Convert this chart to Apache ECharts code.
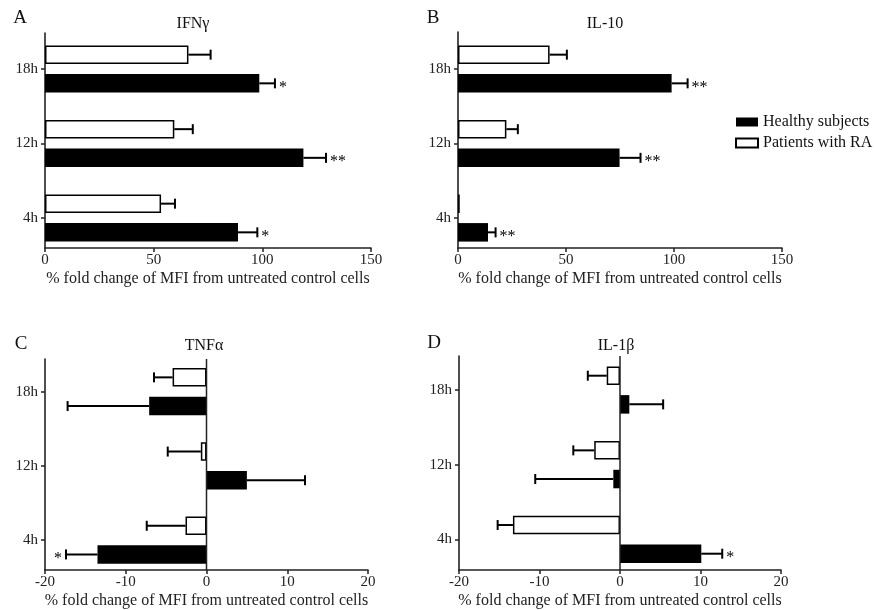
<!DOCTYPE html>
<html><head><meta charset="utf-8">
<script src="https://cdn.jsdelivr.net/npm/echarts@6/dist/echarts.min.js"></script>
<style>html,body{margin:0;padding:0;background:#fff}#c{width:874px;height:610px}</style>
</head><body><div id="c"></div>
<script>
const categories = ['4h', '12h', '18h'];
const seriesNames = ['Healthy subjects', 'Patients with RA'];
const axisTitle = '% fold change of MFI from untreated control cells';

// Panel A: IFNγ
const ifnHealthy = [88.8, 118.9, 98.6];
const ifnHealthyErr = [8.9, 10.4, 7.2];
const ifnHealthyStars = ['*', '**', '*'];
const ifnPatients = [53.4, 59.5, 66.0];
const ifnPatientsErr = [6.4, 8.5, 10.2];
const ifnPatientsStars = ['', '', ''];

// Panel B: IL-10
const il10Healthy = [13.9, 74.8, 98.9];
const il10HealthyErr = [3.5, 9.7, 7.4];
const il10HealthyStars = ['**', '**', '**'];
const il10Patients = [0.8, 22.4, 42.4];
const il10PatientsErr = [0, 5.3, 8.0];
const il10PatientsStars = ['', '', ''];

// Panel C: TNFα
const tnfHealthy = [-13.5, 5.0, -7.1];
const tnfHealthyErr = [3.9, 7.2, 10.1];
const tnfHealthyStars = ['*', '', ''];
const tnfPatients = [-2.6, -0.7, -4.2];
const tnfPatientsErr = [4.8, 4.1, 2.3];
const tnfPatientsStars = ['', '', ''];

// Panel D: IL-1β
const il1Healthy = [10.1, -0.83, 1.16];
const il1HealthyErr = [2.6, 9.7, 4.2];
const il1HealthyStars = ['*', '', ''];
const il1Patients = [-13.3, -3.2, -1.65];
const il1PatientsErr = [1.9, 2.6, 2.35];
const il1PatientsStars = ['', '', ''];

// Tick labels
const ticksTop = [0, 50, 100, 150];
const ticksBottom = [-20, -10, 0, 10, 20];
// vertical zero reference line (x = 0 across the frame)
const zeroLine = [[0, 0], [0, 1]];

const FONT = '"Liberation Serif", "Times New Roman", serif';
const BAR_W = 18.5, BAR_GAP = 0.55;
const HALF_SHIFT = (BAR_W + BAR_W * BAR_GAP) / 2;

const panels = [
  { letter: 'A', title: 'IFNγ', band: { left: 45, top: 31.75, width: 326, height: 223.5 }, frame: { left: 45, top: 33, width: 326, height: 215 },
    letterPos: [20, 18], titlePos: [193, 24],
    h: ifnHealthy, he: ifnHealthyErr, hs: ifnHealthyStars, p: ifnPatients, pe: ifnPatientsErr, ps: ifnPatientsStars, ticks: ticksTop, zero: false },
  { letter: 'B', title: 'IL-10', band: { left: 458, top: 31.75, width: 324, height: 223.5 }, frame: { left: 458, top: 32, width: 324, height: 216 },
    letterPos: [433, 18], titlePos: [605, 24],
    h: il10Healthy, he: il10HealthyErr, hs: il10HealthyStars, p: il10Patients, pe: il10PatientsErr, ps: il10PatientsStars, ticks: ticksTop, zero: false },
  { letter: 'C', title: 'TNFα', band: { left: 45, top: 354.6, width: 323, height: 222.6 }, frame: { left: 45, top: 359, width: 323, height: 213 },
    letterPos: [21, 344], titlePos: [204, 346],
    h: tnfHealthy, he: tnfHealthyErr, hs: tnfHealthyStars, p: tnfPatients, pe: tnfPatientsErr, ps: tnfPatientsStars, ticks: ticksBottom, zero: true },
  { letter: 'D', title: 'IL-1β', band: { left: 459, top: 352.7, width: 322, height: 224 }, frame: { left: 459, top: 356, width: 322, height: 216 },
    letterPos: [434, 343], titlePos: [616, 346],
    h: il1Healthy, he: il1HealthyErr, hs: il1HealthyStars, p: il1Patients, pe: il1PatientsErr, ps: il1PatientsStars, ticks: ticksBottom, zero: true }
];

function makeErr(vals, errs, stars, sign) {
  return function (params, api) {
    const i = params.dataIndex;
    const v = vals[i], e = errs[i];
    const dir = v >= 0 ? 1 : -1;
    const p0 = api.coord([v, i]);
    const p1 = api.coord([v + dir * e, i]);
    const y = p0[1] + sign * HALF_SHIFT;
    const children = [];
    if (e > 0) {
      children.push({ type: 'line', shape: { x1: p0[0], y1: y, x2: p1[0], y2: y }, style: { stroke: '#000', lineWidth: 2 } });
      children.push({ type: 'line', shape: { x1: p1[0], y1: y - 5, x2: p1[0], y2: y + 5 }, style: { stroke: '#000', lineWidth: 2 } });
    }
    if (stars[i]) {
      children.push({ type: 'text', style: { text: stars[i], x: p1[0] + dir * 4, y: y + 4,
        align: dir > 0 ? 'left' : 'right', verticalAlign: 'middle', fontSize: 16, fontFamily: FONT, fill: '#000' } });
    }
    return { type: 'group', children: children };
  };
}

const N = panels.length;
const grids = [], xAxes = [], yAxes = [], series = [], graphics = [];
// band grids (bars + category ticks)
panels.forEach((pn, k) => {
  grids.push(Object.assign({ containLabel: false }, pn.band));
  xAxes.push({ type: 'value', gridIndex: k, show: false,
    min: pn.ticks[0], max: pn.ticks[pn.ticks.length - 1], interval: pn.ticks[1] - pn.ticks[0], splitLine: { show: false } });
  yAxes.push({
    type: 'category', gridIndex: k, data: categories,
    axisLine: { show: false, onZero: false },
    axisTick: { show: true, alignWithLabel: true, length: 4, lineStyle: { color: '#222', width: 1.5 } },
    axisLabel: { margin: 7, fontSize: 15, fontFamily: FONT, color: '#222' }
  });
});
// frame grids (visible axis lines, value ticks, axis titles)
panels.forEach((pn, k) => {
  grids.push(Object.assign({ containLabel: false }, pn.frame));
  xAxes.push({
    type: 'value', gridIndex: N + k,
    min: pn.ticks[0], max: pn.ticks[pn.ticks.length - 1], interval: pn.ticks[1] - pn.ticks[0],
    splitLine: { show: false },
    axisLine: { show: true, onZero: false, lineStyle: { color: '#222', width: 1.6 } },
    axisTick: { show: true, length: 4, lineStyle: { color: '#222', width: 1.5 } },
    axisLabel: { margin: 5, fontSize: 15, fontFamily: FONT, color: '#222' },
    name: axisTitle, nameLocation: 'middle', nameGap: 23,
    nameTextStyle: { fontSize: 16, fontFamily: FONT, color: '#222' }
  });
  yAxes.push({
    type: 'value', gridIndex: N + k, min: 0, max: 1,
    splitLine: { show: false }, axisTick: { show: false }, axisLabel: { show: false },
    axisLine: { show: true, onZero: false, lineStyle: { color: '#222', width: 1.6 } }
  });
});

panels.forEach((pn, k) => {
  series.push({
    type: 'bar', name: seriesNames[1], xAxisIndex: k, yAxisIndex: k, data: pn.p,
    barWidth: BAR_W, barGap: (BAR_GAP * 100) + '%',
    itemStyle: { color: '#fff', borderColor: '#000', borderWidth: 1.5 }, z: 2
  });
  series.push({
    type: 'bar', name: seriesNames[0], xAxisIndex: k, yAxisIndex: k, data: pn.h,
    barWidth: BAR_W, barGap: (BAR_GAP * 100) + '%',
    itemStyle: { color: '#000' }, z: 2
  });
  series.push({
    type: 'custom', name: 'errP' + k, xAxisIndex: k, yAxisIndex: k,
    data: categories.map((c, i) => [pn.p[i], i]), encode: { x: 0, y: 1 },
    renderItem: makeErr(pn.p, pn.pe, pn.ps, -1), z: 5
  });
  series.push({
    type: 'custom', name: 'errH' + k, xAxisIndex: k, yAxisIndex: k,
    data: categories.map((c, i) => [pn.h[i], i]), encode: { x: 0, y: 1 },
    renderItem: makeErr(pn.h, pn.he, pn.hs, 1), z: 5
  });
  if (pn.zero) {
    series.push({
      type: 'line', name: 'zero' + k, xAxisIndex: N + k, yAxisIndex: N + k, data: zeroLine,
      symbol: 'none', silent: true, lineStyle: { color: '#222', width: 1.5 }, z: 3
    });
  }
  graphics.push({ type: 'text', x: pn.letterPos[0], y: pn.letterPos[1],
    style: { text: pn.letter, fontSize: 19, fontFamily: FONT, fill: '#111', align: 'center', verticalAlign: 'middle', textAlign: 'center', textVerticalAlign: 'middle' } });
  graphics.push({ type: 'text', x: pn.titlePos[0], y: pn.titlePos[1],
    style: { text: pn.title, fontSize: 16, fontFamily: FONT, fill: '#111', align: 'center', verticalAlign: 'middle', textAlign: 'center', textVerticalAlign: 'middle' } });
});

const chart = echarts.init(document.getElementById('c'), null, { renderer: 'canvas' });
chart.setOption({
  animation: false,
  backgroundColor: '#fff',
  grid: grids, xAxis: xAxes, yAxis: yAxes, series: series, graphic: graphics,
  legend: {
    data: seriesNames, orient: 'vertical', left: 735, top: 114, padding: 0,
    itemWidth: 22, itemHeight: 9, itemGap: 5, icon: 'rect',
    textStyle: { fontSize: 16, lineHeight: 16, fontFamily: FONT, color: '#111' }
  }
});
</script></body></html>
